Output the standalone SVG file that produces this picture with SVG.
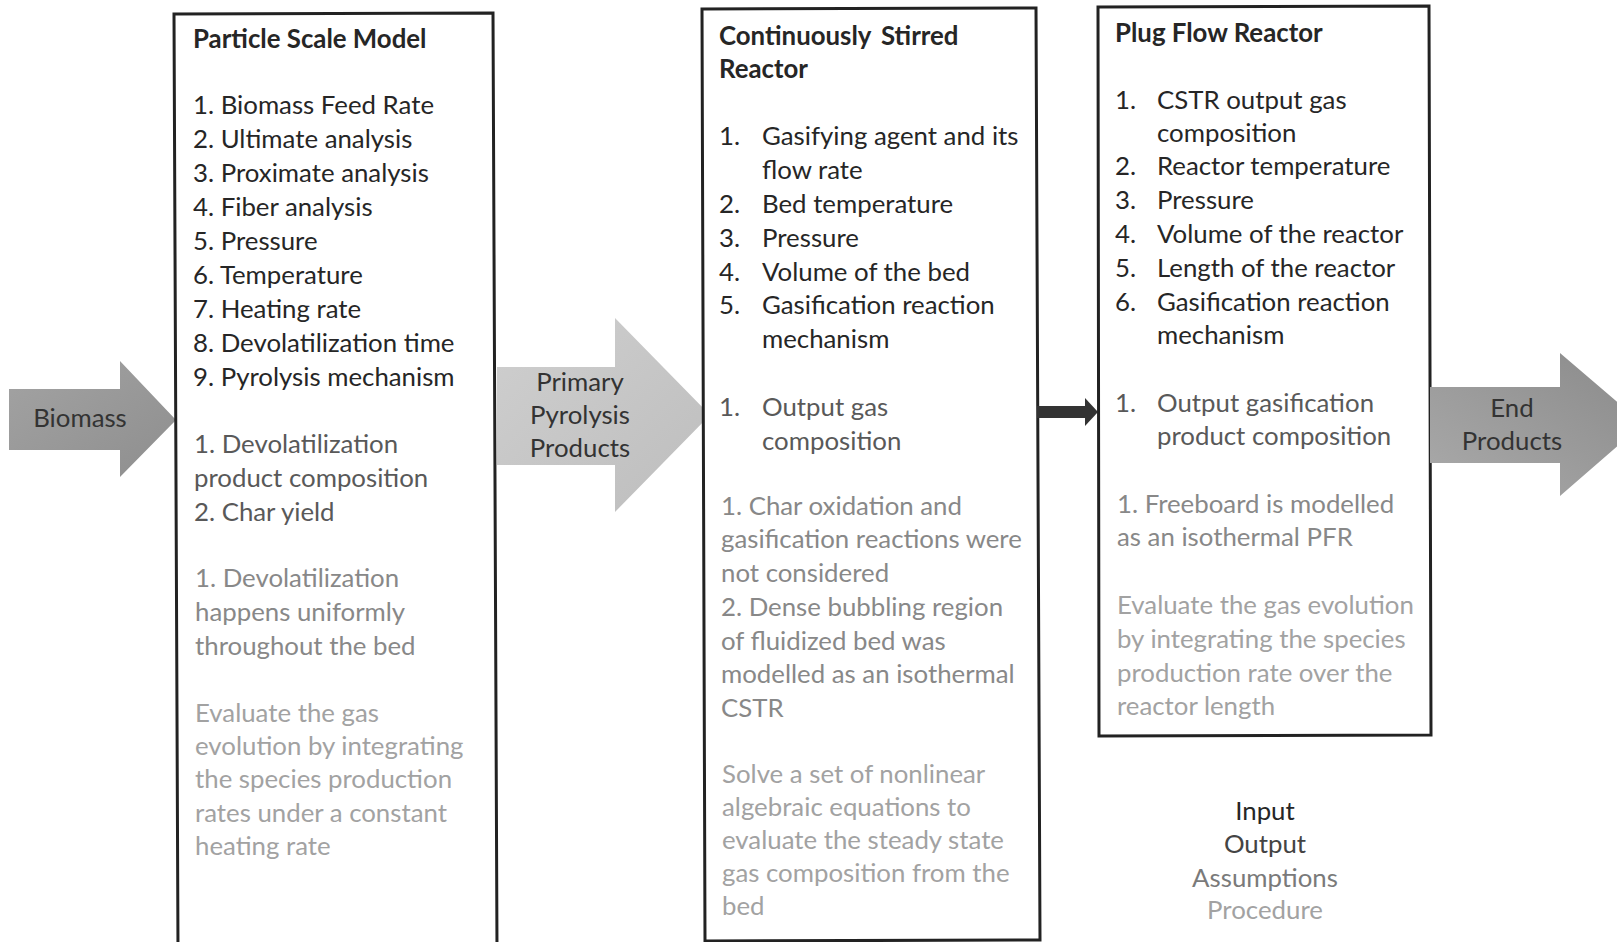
<svg xmlns="http://www.w3.org/2000/svg" width="1617" height="942" viewBox="0 0 1617 942">
<defs>
<linearGradient id="gDark" x1="0" y1="0" x2="1" y2="1">
<stop offset="0" stop-color="#a3a3a3"/>
<stop offset="1" stop-color="#8e8e8e"/>
</linearGradient>
<linearGradient id="gLight" x1="0" y1="0" x2="1" y2="1">
<stop offset="0" stop-color="#cfcfcf"/>
<stop offset="1" stop-color="#bdbdbd"/>
</linearGradient>
<linearGradient id="gEnd" x1="0" y1="1" x2="1" y2="0">
<stop offset="0" stop-color="#aaaaaa"/>
<stop offset="1" stop-color="#8a8a8a"/>
</linearGradient>
<marker id="head" markerUnits="userSpaceOnUse" markerWidth="14" markerHeight="28" refX="1" refY="14" orient="auto">
<polygon points="0,0 13,14 0,28" fill="#333"/>
</marker>
</defs>
<style>
.box{fill:#fff;stroke:#222;stroke-width:3}
text{font-family:Lato,"Liberation Sans",sans-serif;font-size:25.8px}
.t{font-weight:bold;fill:#262626}
.in{fill:#262626}
.out{fill:#595959}
.as{fill:#888888}
.pr{fill:#a2a2a2}
.lbl{fill:#333;text-anchor:middle}
</style>
<rect width="1617" height="942" fill="#fff"/>

<g id="arrow-biomass">
<polygon points="9,389 120,389 120,361 176,420 120,477 120,450 9,450" fill="url(#gDark)"/>
<text class="lbl" x="80" y="427">Biomass</text>
</g>

<g id="box-particle">
<polygon class="box" points="174,14 493,13 497,950 178,950"/>
<text class="t" x="193" y="48">Particle Scale Model</text>
<text class="in" x="193" y="114">1. Biomass Feed Rate</text>
<text class="in" x="193" y="148">2. Ultimate analysis</text>
<text class="in" x="193" y="182">3. Proximate analysis</text>
<text class="in" x="193" y="216">4. Fiber analysis</text>
<text class="in" x="193" y="250">5. Pressure</text>
<text class="in" x="193" y="284">6. Temperature</text>
<text class="in" x="193" y="318">7. Heating rate</text>
<text class="in" x="193" y="352">8. Devolatilization time</text>
<text class="in" x="193" y="386">9. Pyrolysis mechanism</text>
<text class="out" x="194" y="453">1. Devolatilization</text>
<text class="out" x="194" y="487">product composition</text>
<text class="out" x="194" y="521">2. Char yield</text>
<text class="as" x="195" y="587">1. Devolatilization</text>
<text class="as" x="195" y="621">happens uniformly</text>
<text class="as" x="195" y="655">throughout the bed</text>
<text class="pr" x="195" y="722">Evaluate the gas</text>
<text class="pr" x="195" y="755">evolution by integrating</text>
<text class="pr" x="195" y="788">the species production</text>
<text class="pr" x="195" y="822">rates under a constant</text>
<text class="pr" x="195" y="855">heating rate</text>
</g>

<g id="arrow-primary">
<polygon points="497,367 615,367 615,318 710,415 615,512 615,465 497,465" fill="url(#gLight)"/>
<text class="lbl" x="580" y="391">Primary</text>
<text class="lbl" x="580" y="424">Pyrolysis</text>
<text class="lbl" x="580" y="457">Products</text>
</g>

<g id="box-cstr">
<polygon class="box" points="702,9 1036,8 1040,940 705,941"/>
<text class="t" x="719" y="45" word-spacing="4">Continuously Stirred</text>
<text class="t" x="719" y="78">Reactor</text>
<text class="in" x="719" y="145">1.</text><text class="in" x="762" y="145">Gasifying agent and its</text>
<text class="in" x="762" y="179">flow rate</text>
<text class="in" x="719" y="213">2.</text><text class="in" x="762" y="213">Bed temperature</text>
<text class="in" x="719" y="247">3.</text><text class="in" x="762" y="247">Pressure</text>
<text class="in" x="719" y="281">4.</text><text class="in" x="762" y="281">Volume of the bed</text>
<text class="in" x="719" y="314">5.</text><text class="in" x="762" y="314">Gasification reaction</text>
<text class="in" x="762" y="348">mechanism</text>
<text class="out" x="719" y="416">1.</text><text class="out" x="762" y="416">Output gas</text>
<text class="out" x="762" y="450">composition</text>
<text class="as" x="721" y="515">1. Char oxidation and</text>
<text class="as" x="721" y="548">gasification reactions were</text>
<text class="as" x="721" y="582">not considered</text>
<text class="as" x="721" y="616">2. Dense bubbling region</text>
<text class="as" x="721" y="650">of fluidized bed was</text>
<text class="as" x="721" y="683">modelled as an isothermal</text>
<text class="as" x="721" y="717">CSTR</text>
<text class="pr" x="722" y="783">Solve a set of nonlinear</text>
<text class="pr" x="722" y="816">algebraic equations to</text>
<text class="pr" x="722" y="849">evaluate the steady state</text>
<text class="pr" x="722" y="882">gas composition from the</text>
<text class="pr" x="722" y="915">bed</text>
</g>

<g id="connectors">
<line x1="1037" y1="412" x2="1086" y2="412" stroke="#333" stroke-width="12" marker-end="url(#head)"/>
</g>

<g id="box-pfr">
<polygon class="box" points="1098,7 1429,6 1431,735 1099,736"/>
<text class="t" x="1115" y="42">Plug Flow Reactor</text>
<text class="in" x="1115" y="109">1.</text><text class="in" x="1157" y="109">CSTR output gas</text>
<text class="in" x="1157" y="142">composition</text>
<text class="in" x="1115" y="175">2.</text><text class="in" x="1157" y="175">Reactor temperature</text>
<text class="in" x="1115" y="209">3.</text><text class="in" x="1157" y="209">Pressure</text>
<text class="in" x="1115" y="243">4.</text><text class="in" x="1157" y="243">Volume of the reactor</text>
<text class="in" x="1115" y="277">5.</text><text class="in" x="1157" y="277">Length of the reactor</text>
<text class="in" x="1115" y="311">6.</text><text class="in" x="1157" y="311">Gasification reaction</text>
<text class="in" x="1157" y="344">mechanism</text>
<text class="out" x="1115" y="412">1.</text><text class="out" x="1157" y="412">Output gasification</text>
<text class="out" x="1157" y="445">product composition</text>
<text class="as" x="1117" y="513">1. Freeboard is modelled</text>
<text class="as" x="1117" y="546">as an isothermal PFR</text>
<text class="pr" x="1117" y="614">Evaluate the gas evolution</text>
<text class="pr" x="1117" y="648">by integrating the species</text>
<text class="pr" x="1117" y="682">production rate over the</text>
<text class="pr" x="1117" y="715">reactor length</text>
</g>

<g id="arrow-end">
<polygon points="1430,387 1560,387 1560,353 1643,424 1560,496 1560,463 1430,463" fill="url(#gEnd)"/>
<text class="lbl" x="1512" y="417">End</text>
<text class="lbl" x="1512" y="450">Products</text>
</g>

<g id="legend">
<text class="lbl" x="1265" y="820" style="fill:#262626">Input</text>
<text class="lbl" x="1265" y="853" style="fill:#444">Output</text>
<text class="lbl" x="1265" y="887" style="fill:#7a7a7a">Assumptions</text>
<text class="lbl" x="1265" y="919" style="fill:#a2a2a2">Procedure</text>
</g>
</svg>
